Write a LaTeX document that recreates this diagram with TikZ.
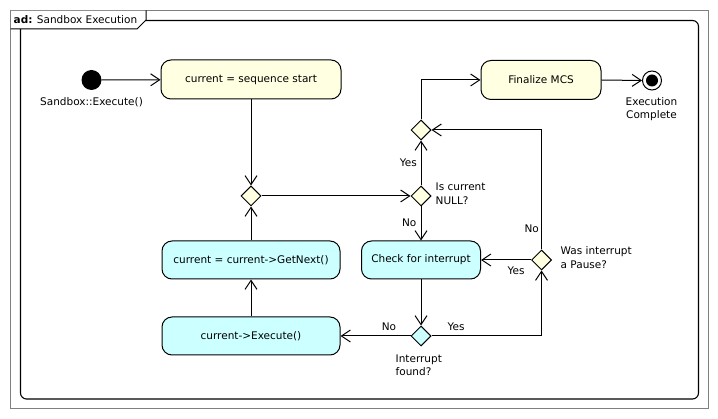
\documentclass[tikz,border=0pt]{standalone}
\usepackage{fontspec}
\setmainfont{DejaVu Sans}
\usetikzlibrary{arrows.meta,shapes.geometric}
\definecolor{actyellow}{RGB}{255,255,226}
\definecolor{actcyan}{RGB}{204,255,255}
\definecolor{framegray}{RGB}{128,128,128}
\tikzset{
  every node/.style={font=\fontsize{10.5}{13.5}\selectfont, inner sep=0pt},
  flow/.style={draw, line width=1pt, -{Straight Barb[length=9pt,width=12pt]}},
  actbox/.style={draw, line width=1pt, rounded corners=10pt, fill=actyellow, minimum width=180pt, minimum height=39pt},
  cyanbox/.style={actbox, fill=actcyan},
  decision/.style={draw, line width=1pt, diamond, fill=actyellow, minimum width=20pt, minimum height=20pt, inner sep=0pt},
  lbl/.style={align=left},
}
\begin{document}
\begin{tikzpicture}[x=1pt,y=-1pt]
\useasboundingbox (0,0) rectangle (718,419);
% frames
\draw[framegray, line width=1pt] (10.5,10.5) rectangle (708,409);
\draw[line width=1.1pt, rounded corners=6pt] (20.5,20.5) rectangle (698.5,399);
\fill[white] (11,11) -- (146,11) -- (146,20) -- (137,29) -- (11,29) -- cycle;
\draw[line width=1pt] (10.5,29) -- (137,29) -- (146,20) -- (146,10.5);
\node[anchor=west] (title) at (13.5,19.5) {\textbf{ad:} Sandbox Execution};
% nodes
\node[circle, fill=black, minimum size=20pt] (init) at (91.5,80) {};
\node (initlbl) at (91.5,102) {Sandbox::Execute()};
\node[actbox] (b1) at (251,79.5) {current = sequence start};
\node[cyanbox, minimum width=178pt, minimum height=38pt] (b2) at (251,260) {current = current->GetNext()};
\node[cyanbox, minimum width=178pt, minimum height=38pt] (b3) at (251,336) {current->Execute()};
\node[cyanbox, minimum width=119pt, minimum height=38pt] (b4) at (421,260) {Check for interrupt};
\node[actbox, minimum width=120pt] (b5) at (541,80) {Finalize MCS};
\node[circle, draw, line width=1pt, fill=white, minimum size=19pt] (fin) at (652,80.5) {};
\node[circle, fill=black, minimum size=12pt] (fininner) at (fin.center) {};
\node[align=center] (finlbl) at (651.5,109) {Execution\\Complete};
\node[decision] (d1) at (251,196) {};
\node[decision] (d2) at (421,196) {};
\node[decision] (d3) at (421,130) {};
\node[decision, fill=actcyan] (d4) at (421,336) {};
\node[decision] (d5) at (541.5,260) {};
% connectors
\draw[flow] (init) -- (b1);
\draw[flow] (b1.south) -- (d1.north);
\draw[flow] (b2.north) -- (d1.south);
\draw[flow] (d1.east) -- (d2.west);
\draw[flow] (d2.north) -- (d3.south);
\draw[flow] (d2.south) -- (d2.south |- b4.north);
\draw[flow] (d3.north) |- (b5.west);
\draw[flow] (b5.east) -- (fin.west);
\draw[flow] (b4.south -| d4.north) -- (d4.north);
\draw[flow] (d4.west) -- (b3.east);
\draw[flow] (d4.east) -| (d5.south);
\draw[flow] (d5.west) -- (b4.east);
\draw[flow] (d5.north) |- (d3.east);
\draw[flow] (b3.north) -- (b2.south);
% labels
\node[lbl, anchor=west] (q1) at (435.5,194) {Is current\\NULL?};
\node[anchor=east] (yes1) at (417,163) {Yes};
\node[anchor=east] (no1) at (416.5,223) {No};
\node[anchor=east] (no2) at (539,229) {No};
\node (yes2) at (516,271) {Yes};
\node[lbl, anchor=west] (q2) at (560.5,257.5) {Was interrupt\\a Pause?};
\node (no3) at (389,327) {No};
\node (yes3) at (456,327) {Yes};
\node[lbl, anchor=west] (q3) at (395.5,365) {Interrupt\\found?};
\end{tikzpicture}
\end{document}
